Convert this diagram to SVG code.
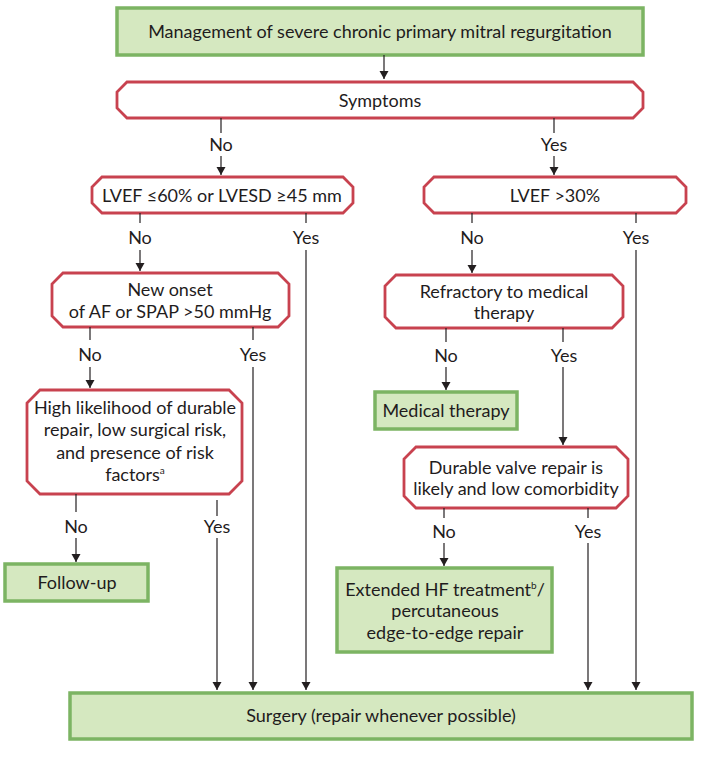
<svg xmlns="http://www.w3.org/2000/svg" width="717" height="776" viewBox="0 0 717 776">
<defs>
<style>
.g{fill:#d5e8c0;stroke:#7cb463;stroke-width:3.5}
.r{fill:#ffffff;stroke:#c8424f;stroke-width:2.8}
.t{font-family:Lato,"Open Sans",sans-serif;font-size:18px;fill:#1f1c1d;text-anchor:middle}
.c line{stroke:#231f20;stroke-width:1.2}
.a{marker-end:url(#ah)}
.sup{font-size:10px}
</style>
<marker id="ah" viewBox="0 0 8 10" refX="8" refY="5" markerWidth="8" markerHeight="10" markerUnits="userSpaceOnUse" orient="auto">
<path d="M0,0.5 L8,5 L0,9.5 Z" fill="#231f20"/>
</marker>
</defs>
<rect width="717" height="776" fill="#ffffff"/>

<g id="title">
<rect class="g" x="117" y="8" width="526" height="47"/>
<text class="t" x="380" y="38">Management of severe chronic primary mitral regurgitation</text>
</g>
<g id="symptoms">
<polygon class="r" points="127,82 633,82 643,92 643,108 633,118 127,118 117,108 117,92"/>
<text class="t" x="380" y="107">Symptoms</text>
</g>
<g id="lvef60">
<polygon class="r" points="102,177 343,177 353,187 353,203 343,213 102,213 92,203 92,187"/>
<text class="t" x="222" y="202">LVEF ≤60% or LVESD ≥45 mm</text>
</g>
<g id="lvef30">
<polygon class="r" points="434,177 676,177 686,187 686,203 676,213 434,213 424,203 424,187"/>
<text class="t" x="555" y="202">LVEF &gt;30%</text>
</g>
<g id="newonset">
<polygon class="r" points="63,273 278,273 289,284 289,316 278,327 63,327 52,316 52,284"/>
<text class="t" x="170" y="296">New onset</text>
<text class="t" x="170" y="318">of AF or SPAP &gt;50 mmHg</text>
</g>
<g id="refractory">
<polygon class="r" points="396,275 612,275 623,286 623,317 612,328 396,328 385,317 385,286"/>
<text class="t" x="504" y="298">Refractory to medical</text>
<text class="t" x="504" y="319">therapy</text>
</g>
<g id="highlikelihood">
<polygon class="r" points="40,390 229,390 242,403 242,481 229,494 40,494 27,481 27,403"/>
<text class="t" x="135" y="414">High likelihood of durable</text>
<text class="t" x="135" y="436">repair, low surgical risk,</text>
<text class="t" x="135" y="459">and presence of risk</text>
<text class="t" x="135" y="481">factors<tspan class="sup" dy="-7">a</tspan></text>
</g>
<g id="medical">
<rect class="g" x="375" y="392" width="142" height="37"/>
<text class="t" x="446" y="417">Medical therapy</text>
</g>
<g id="durable">
<polygon class="r" points="416,447 616,447 628,459 628,496 616,508 416,508 404,496 404,459"/>
<text class="t" x="516" y="474">Durable valve repair is</text>
<text class="t" x="516" y="495">likely and low comorbidity</text>
</g>
<g id="followup">
<rect class="g" x="5" y="564" width="143" height="37"/>
<text class="t" x="77" y="589">Follow-up</text>
</g>
<g id="extended">
<rect class="g" x="337" y="568" width="215" height="84"/>
<text class="t" x="445" y="596">Extended HF treatment<tspan class="sup" dy="-7">b</tspan><tspan dy="7">/</tspan></text>
<text class="t" x="445" y="617">percutaneous</text>
<text class="t" x="445" y="639">edge-to-edge repair</text>
</g>
<g id="surgery">
<rect class="g" x="70" y="693" width="622" height="46"/>
<text class="t" x="381" y="722">Surgery (repair whenever possible)</text>
</g>

<g id="connectors" class="c">
<line class="a" x1="384" y1="55" x2="384" y2="79"/>
<line x1="221" y1="118" x2="221" y2="133"/>
<line class="a" x1="221" y1="156" x2="221" y2="175"/>
<line x1="554" y1="118" x2="554" y2="133"/>
<line class="a" x1="554" y1="156" x2="554" y2="175"/>
<line x1="140" y1="213" x2="140" y2="223"/>
<line class="a" x1="140" y1="250" x2="140" y2="271"/>
<line x1="306" y1="213" x2="306" y2="223"/>
<line class="a" x1="306" y1="250" x2="306" y2="690"/>
<line x1="472" y1="213" x2="472" y2="223"/>
<line class="a" x1="472" y1="250" x2="472" y2="273"/>
<line x1="636" y1="213" x2="636" y2="223"/>
<line class="a" x1="636" y1="250" x2="636" y2="690"/>
<line x1="90" y1="327" x2="90" y2="340"/>
<line class="a" x1="90" y1="367" x2="90" y2="388"/>
<line x1="253" y1="327" x2="253" y2="340"/>
<line class="a" x1="253" y1="367" x2="253" y2="690"/>
<line x1="446" y1="328" x2="446" y2="342"/>
<line class="a" x1="446" y1="367" x2="446" y2="390"/>
<line x1="563" y1="328" x2="563" y2="342"/>
<line class="a" x1="563" y1="367" x2="563" y2="445"/>
<line x1="76" y1="494" x2="76" y2="512"/>
<line class="a" x1="76" y1="538" x2="76" y2="562"/>
<line x1="217" y1="500" x2="217" y2="516"/>
<line class="a" x1="217" y1="538" x2="217" y2="690"/>
<line x1="444" y1="508" x2="444" y2="518"/>
<line class="a" x1="444" y1="543" x2="444" y2="566"/>
<line x1="588" y1="508" x2="588" y2="518"/>
<line class="a" x1="588" y1="543" x2="588" y2="690"/>
</g>
<g id="labels">
<text class="t" x="221" y="151">No</text>
<text class="t" x="554" y="151">Yes</text>
<text class="t" x="140" y="244">No</text>
<text class="t" x="306" y="244">Yes</text>
<text class="t" x="472" y="244">No</text>
<text class="t" x="636" y="244">Yes</text>
<text class="t" x="90" y="361">No</text>
<text class="t" x="253" y="361">Yes</text>
<text class="t" x="446" y="362">No</text>
<text class="t" x="564" y="362">Yes</text>
<text class="t" x="76" y="533">No</text>
<text class="t" x="217" y="533">Yes</text>
<text class="t" x="444" y="538">No</text>
<text class="t" x="588" y="538">Yes</text>
</g>
</svg>
